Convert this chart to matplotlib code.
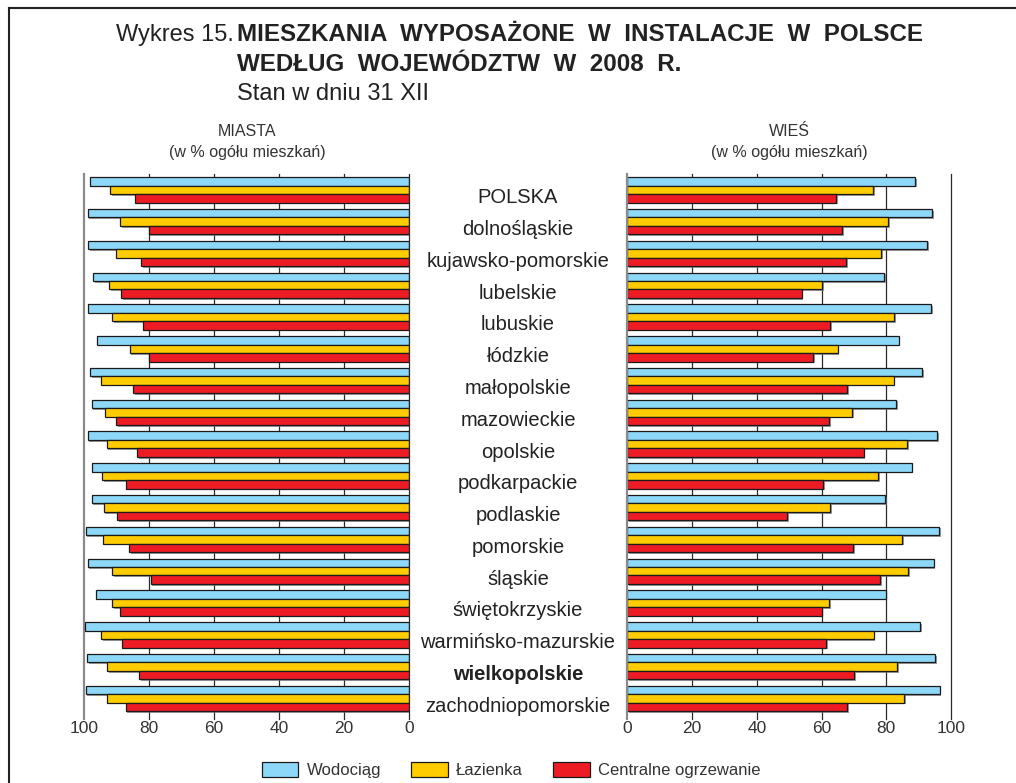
import numpy as np
import matplotlib
matplotlib.use('Agg')
import matplotlib.pyplot as plt
import matplotlib.patheffects as pe
from matplotlib.transforms import blended_transform_factory
from matplotlib.lines import Line2D
from matplotlib.patches import Patch

plt.rcParams['font.family'] = ['Liberation Sans', 'DejaVu Sans']

regions = ['POLSKA', 'dolnośląskie', 'kujawsko-pomorskie', 'lubelskie', 'lubuskie',
           'łódzkie', 'małopolskie', 'mazowieckie', 'opolskie', 'podkarpackie',
           'podlaskie', 'pomorskie', 'śląskie', 'świętokrzyskie',
           'warmińsko-mazurskie', 'wielkopolskie', 'zachodniopomorskie']

# MIASTA (w % ogolu mieszkan)
miasta_wodociag = [98.3, 99.0, 98.8, 97.2, 99.0, 96.0, 98.2, 97.7, 99.0, 97.6, 97.7, 99.6, 99.0, 96.5, 99.7, 99.1, 99.6]
miasta_lazienka = [92.1, 88.9, 90.2, 92.4, 91.4, 86.0, 95.0, 93.7, 93.1, 94.5, 94.0, 94.3, 91.4, 91.4, 94.8, 92.9, 93.1]
miasta_co = [84.5, 80.2, 82.5, 88.7, 81.8, 80.0, 85.0, 90.1, 83.8, 87.3, 89.8, 86.2, 79.6, 88.9, 88.3, 83.2, 87.3]

# WIES (w % ogolu mieszkan)
wies_wodociag = [89.0, 94.1, 92.6, 79.4, 93.8, 83.8, 91.1, 83.1, 95.8, 87.8, 79.6, 96.4, 94.6, 79.8, 90.5, 95.1, 96.5]
wies_lazienka = [75.9, 80.6, 78.5, 60.2, 82.5, 65.0, 82.3, 69.5, 86.5, 77.4, 62.7, 85.0, 86.7, 62.3, 76.1, 83.4, 85.5]
wies_co = [64.5, 66.4, 67.7, 53.9, 62.7, 57.5, 67.9, 62.4, 73.0, 60.6, 49.4, 69.7, 78.2, 60.0, 61.5, 70.1, 68.0]

series_names = ['Wodociąg', 'Łazienka', 'Centralne ogrzewanie']
colors = ['#8DD8F8', '#FFCC00', '#ED1C24']
ticks = [0, 20, 40, 60, 80, 100]

W, H = 1016, 783
fig = plt.figure(figsize=(W / 100, H / 100), dpi=100)

def fx(px):
    return px / W

def fy(py):
    return 1 - py / H

top, bottom = 174, 713
axL = fig.add_axes([fx(84.3), fy(bottom), fx(409 - 84.3), (bottom - top) / H])
axR = fig.add_axes([fx(627.3), fy(bottom), fx(951 - 627.3), (bottom - top) / H])

y = np.arange(len(regions))
bh = 0.8 / 3
shadow = [pe.SimplePatchShadow(offset=(1.2, -1.2), shadow_rgbFace='0.45', alpha=0.7), pe.Normal()]


def panel(ax, data, inverted):
    for k, vals in enumerate(data):
        ax.barh(y + (k - 1) * bh, vals, height=bh, color=colors[k], edgecolor='#1a1a1a',
                linewidth=0.9, zorder=3, path_effects=shadow)
    for t in ticks:
        if (inverted and t == 100) or (not inverted and t == 0):
            c, lw = '#8a8a8a', 1.6
        else:
            c, lw = '#2a2a2a', 0.9
        ax.axvline(t, ymin=-0.012, ymax=1, color=c, lw=lw, zorder=4 if t == 0 else 1,
                   clip_on=False)
    ax.set_xlim((100, 0) if inverted else (0, 100))
    ax.set_ylim(16.46, -0.5)
    for s in ax.spines.values():
        s.set_visible(False)
    ax.set_yticks([])
    ax.set_xticks(ticks)
    ax.set_xticklabels([str(t) for t in ticks])
    ax.tick_params(axis='x', length=0, pad=6, labelsize=12.5, colors='#333333')


panel(axL, [miasta_wodociag, miasta_lazienka, miasta_co], True)
panel(axR, [wies_wodociag, wies_lazienka, wies_co], False)

# region labels between the panels
tr = blended_transform_factory(fig.transFigure, axL.transData)
for i, name in enumerate(regions):
    fig.text(fx(518), i + 0.25, name, transform=tr, ha='center', va='center',
             fontsize=14.5, color='#222222',
             fontweight='bold' if name == 'wielkopolskie' else 'normal')

# title
fig.text(fx(116), fy(41), 'Wykres 15.', fontsize=17, va='baseline', color='#222222')
fig.text(fx(237), fy(41), 'MIESZKANIA  WYPOSAŻONE  W  INSTALACJE  W  POLSCE',
         fontsize=17.4, fontweight='bold', va='baseline', color='#222222')
fig.text(fx(237), fy(71), 'WEDŁUG  WOJEWÓDZTW  W  2008  R.',
         fontsize=17.4, fontweight='bold', va='baseline', color='#222222')
fig.text(fx(237), fy(100), 'Stan w dniu 31 XII', fontsize=17, va='baseline', color='#222222')

# panel headers
for cx, head in [(247, 'MIASTA'), (789, 'WIEŚ')]:
    fig.text(fx(cx), fy(131), head, fontsize=11.5, ha='center', va='center', color='#333333')
    fig.text(fx(cx), fy(153), '(w % ogółu mieszkań)', fontsize=11.5,
             ha='center', va='center', color='#333333')

# legend
handles = [Patch(facecolor=c, edgecolor='#1a1a1a', linewidth=0.9) for c in colors]
fig.legend(handles, series_names, loc='center', bbox_to_anchor=(fx(511), fy(770)), ncol=3,
           frameon=False, fontsize=12, handlelength=2.2, handleheight=1.0,
           handletextpad=0.5, columnspacing=1.8, labelcolor='#333333')

# frame of the figure
fig.add_artist(Line2D([fx(9), fx(9)], [fy(8), 0], transform=fig.transFigure, color='#222222', lw=1.5))
fig.add_artist(Line2D([fx(9), 1], [fy(8), fy(8)], transform=fig.transFigure, color='#222222', lw=1.5))

fig.savefig('out.png', dpi=100)
